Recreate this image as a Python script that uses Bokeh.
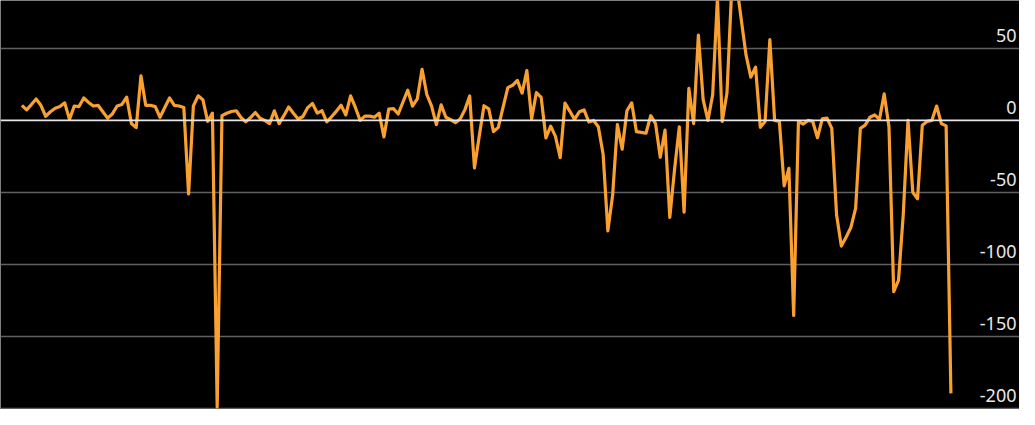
from bokeh.plotting import figure
from bokeh.models import ColumnDataSource, Range1d, FixedTicker, Span
from bokeh.core.properties import value
from bokeh.embed import file_html
from bokeh.resources import INLINE

# Series values (one per period)
values = [
    10.5, 7.3, 11, 14.9, 10.5, 2.9, 6, 8.4, 9.6, 12.2,
    0.7, 10, 9.6, 15.6, 12.5, 10, 10.5, 6, 1.6, 4.5,
    10, 11.1, 16.2, -2.2, -5, 31, 10.5, 10.5, 9.6, 2.2,
    9, 15.6, 10.5, 10, 9, -51, 10, 17.1, 14.4, -0.7,
    5.1, -199, 3.3, 5, 6.2, 6.7, 2, -1, 2, 5.5,
    1.5, 0, -2.2, 6.7, -2.2, 3.3, 9.3, 5, 1, 2.7,
    8.9, 11.8, 5.1, 6.7, -1, 2.5, 6.3, 10.5, 3.8, 17.1,
    9, 0, 3, 3, 2.2, 5, -11.5, 7.8, 8.2, 4.5,
    12.8, 21, 10, 14.9, 35.5, 18, 10, -2.9, 10.8, 2.2,
    0.5, -1.6, 1, 7.5, 17, -33, -11, 10.2, 8, -7.8,
    -4.8, 9, 22.8, 24.4, 27.8, 19, 34.6, 1.1, 19.3, 16,
    -12.2, -4, -11.1, -25.8, 12, 6.5, 0.7, 6, 7.3, -1.1,
    0, -4.4, -23.3, -76.7, -52, -2.9, -20, 6.7, 12.2, -7.8,
    -8.3, -8.9, 3.3, -2.2, -25.6, -6.7, -67.3, -34, -4.4, -63.8,
    22.2, -2.2, 59.3, 14.4, 0, 17.8, 85, -0.7, 19, 92,
    95, 70, 45.5, 30, 37, -4.8, -0.7, 56.2, 0, -0.7,
    -45.5, -33.3, -135.5, -0.7, -2.5, 0, -0.7, -12, 1.1, 1.6,
    -5.5, -65.5, -87.3, -81.1, -74.4, -61.1, -5.5, -3.3, 2.2, 3.8,
    0.7, 18.4, -4.4, -118.9, -111.1, -65.5, 0, -50, -54.4, -3.3,
    -0.7, 0, 10, -2.2, -3.8, -189.6,
]
periods = list(range(len(values)))

# Y-axis ticks and labels
tick_values = [50, 0, -50, -100, -150, -200]
tick_labels = ["50", "0", "-50", "-100", "-150", "-200"]

X_START, X_END = -4.48, 209.4
Y_START, Y_END = -200.8, 83.3

p = figure(
    width=1019, height=409,
    output_backend="svg", toolbar_location=None,
    x_range=Range1d(X_START, X_END), y_range=Range1d(Y_START, Y_END),
    min_border=0, min_border_left=0, min_border_right=0,
    min_border_top=0, min_border_bottom=0,
    background_fill_color="black", border_fill_color="black",
    outline_line_color=None,
)
p.xaxis.visible = False
p.yaxis.visible = False
p.xgrid.visible = False
p.ygrid.ticker = FixedTicker(ticks=[t for t in tick_values if t != 0])
p.ygrid.grid_line_color = "#606060"
p.ygrid.grid_line_width = 1.3

zero = Span(location=0, dimension="width", line_color="#e6e6e6", line_width=1.6)
p.add_layout(zero)

src = ColumnDataSource(dict(x=periods, y=values))
p.line("x", "y", source=src, line_color="#f9a030", line_width=3.2, line_join="round")

lab = ColumnDataSource(dict(x=[X_END] * len(tick_values), y=tick_values, t=tick_labels))
p.text("x", "y", text="t", source=lab, text_align="right", text_baseline="bottom",
       x_offset=-3, y_offset=-6, text_color="#e8e8e8",
       text_font=value("Noto Sans"), text_font_size="18px")

open("out.html", "w").write(file_html(p, INLINE))
